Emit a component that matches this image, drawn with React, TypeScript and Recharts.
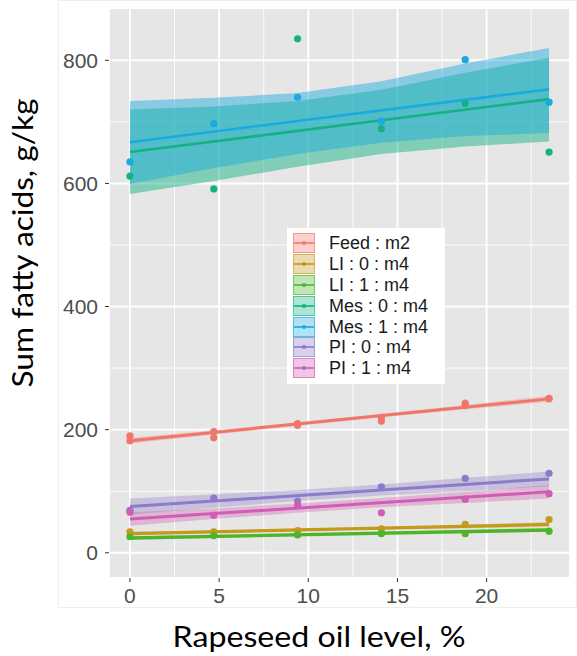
import { ComposedChart, XAxis, YAxis, CartesianGrid, Scatter, Line, Area, Label } from 'recharts';

// x positions of the diet levels
const X_LEVELS = [0, 4.7, 9.4, 14.1, 18.8, 23.5];
const FIT_X = [0, 23.5];

const X_DOMAIN = [-1.175, 24.675];
const Y_DOMAIN = [-41, 885];
const X_TICKS = [0, 5, 10, 15, 20];
const Y_TICKS = [0, 200, 400, 600, 800];
const X_MINOR = [2.5, 7.5, 12.5, 17.5, 22.5];
const Y_MINOR = [100, 300, 500, 700];

// observed sums (g/kg)
const FEED_A = [190, 197, 210, 220, 243, 251];
const FEED_B = [182, 187, 207, 214, 239, 250];
const LI0_PTS = [34, 34, 36, 39, 46, 54];
const LI1_PTS = [26, 28, 29, 31, 31, 35];
const MES0_PTS = [612, 591, 835, 689, 730, 651];
const MES1_PTS = [635, 697, 740, 701, 801, 732];
const PL0_PTS = [69, 89, 84, 107, 121, 129];
const PL1_PTS = [66, 61, 77, 65, 87, 96];

// model fits at x = 0 and x = 23.5
const FEED_FIT = [182, 250];
const LI0_FIT = [31, 46];
const LI1_FIT = [24, 37];
const MES0_FIT = [651, 737];
const MES1_FIT = [667, 753];
const PL0_FIT = [75, 120];
const PL1_FIT = [55, 99];

// confidence bands at X_LEVELS
const FEED_LO = [177, 192, 206, 220, 233, 245];
const FEED_HI = [187, 199, 212, 226, 240, 255];
const LI0_LO = [28, 32, 35, 38, 40, 42];
const LI0_HI = [34, 36, 39, 42, 46, 50];
const LI1_LO = [21, 24, 27, 30, 32, 34];
const LI1_HI = [27, 29, 31, 34, 37, 40];
const MES0_LO = [583, 604, 627, 648, 660, 668];
const MES0_HI = [720, 725, 734, 752, 780, 804];
const MES1_LO = [599, 625, 648, 666, 677, 682];
const MES1_HI = [734, 739, 747, 766, 795, 820];
const PL0_LO = [62, 73, 84, 93, 100, 108];
const PL0_HI = [88, 95, 102, 111, 122, 132];
const PL1_LO = [44, 55, 65, 74, 81, 88];
const PL1_HI = [66, 72, 80, 89, 99, 110];

const SERIES = [
  { name: 'Feed : m2', color: '#F0766C', pts: [FEED_A, FEED_B], fit: FEED_FIT, lo: FEED_LO, hi: FEED_HI, alpha: 0.3, lw: 3 },
  { name: 'LI : 0 : m4', color: '#C49A1C', pts: [LI0_PTS], fit: LI0_FIT, lo: LI0_LO, hi: LI0_HI, alpha: 0.3, lw: 3.2 },
  { name: 'LI : 1 : m4', color: '#4DB52A', pts: [LI1_PTS], fit: LI1_FIT, lo: LI1_LO, hi: LI1_HI, alpha: 0.3, lw: 3.4 },
  { name: 'Mes : 0 : m4', color: '#14B183', pts: [MES0_PTS], fit: MES0_FIT, lo: MES0_LO, hi: MES0_HI, alpha: 0.48, lw: 2.6 },
  { name: 'Mes : 1 : m4', color: '#17ABDF', pts: [MES1_PTS], fit: MES1_FIT, lo: MES1_LO, hi: MES1_HI, alpha: 0.46, lw: 2.6 },
  { name: 'PI : 0 : m4', color: '#8C7ACB', pts: [PL0_PTS], fit: PL0_FIT, lo: PL0_LO, hi: PL0_HI, alpha: 0.34, lw: 3 },
  { name: 'PI : 1 : m4', color: '#D05CB4', pts: [PL1_PTS], fit: PL1_FIT, lo: PL1_LO, hi: PL1_HI, alpha: 0.34, lw: 3 },
];

type Series = (typeof SERIES)[number];

const pointData = (s: Series) => s.pts.flatMap((arr) => arr.map((y, i) => ({ x: X_LEVELS[i], y })));
const fitData = (s: Series) => s.fit.map((y, i) => ({ x: FIT_X[i], y }));
const bandData = (s: Series) => X_LEVELS.map((x, i) => ({ x, band: [s.lo[i], s.hi[i]] }));

// minor grid positions: use the axis scale when exposed, otherwise map through the domain
const minorY = ({ yAxis, offset }: any) =>
  Y_MINOR.map((v) =>
    typeof yAxis?.scale === 'function'
      ? yAxis.scale(v)
      : offset.top + ((Y_DOMAIN[1] - v) / (Y_DOMAIN[1] - Y_DOMAIN[0])) * offset.height,
  );
const minorX = ({ xAxis, offset }: any) =>
  X_MINOR.map((v) =>
    typeof xAxis?.scale === 'function'
      ? xAxis.scale(v)
      : offset.left + ((v - X_DOMAIN[0]) / (X_DOMAIN[1] - X_DOMAIN[0])) * offset.width,
  );

const TICK_STYLE = { fontFamily: 'Liberation Sans, Arial, sans-serif', fontSize: 21, fill: '#4D4D4D' };
const TITLE_FONT = 'Lato, "Open Sans", sans-serif';

const XTitle = ({ viewBox }: any) => (
  <text
    x={viewBox.x + 210}
    y={viewBox.y + 69}
    textAnchor="middle"
    fontFamily={TITLE_FONT}
    fontSize={28}
    textLength={293}
    lengthAdjust="spacingAndGlyphs"
    fill="#000"
  >
    Rapeseed oil level, %
  </text>
);

const YTitle = () => (
  <text
    x={33}
    y={243}
    transform="rotate(-90 33 243)"
    textAnchor="middle"
    fontFamily={TITLE_FONT}
    fontSize={28}
    textLength={289}
    lengthAdjust="spacingAndGlyphs"
    fill="#000"
  >
    Sum fatty acids, g/kg
  </text>
);

function LegendBox() {
  return (
    <div
      style={{
        position: 'absolute',
        left: 287,
        top: 228,
        width: 158,
        padding: '5px 0 5px 6px',
        boxSizing: 'border-box',
        background: '#FFFFFF',
        fontFamily: 'Liberation Sans, Arial, sans-serif',
        fontSize: 18,
        color: '#1A1A1A',
      }}
    >
      {SERIES.map((s) => (
        <div key={s.name} style={{ display: 'flex', alignItems: 'center', height: 20.8 }}>
          <svg width={22} height={20} style={{ display: 'block' }}>
            <rect x={0.5} y={0.5} width={21} height={19} fill={s.color} fillOpacity={0.35} stroke={s.color} strokeOpacity={0.7} />
            <line x1={1} x2={21} y1={10} y2={10} stroke={s.color} strokeWidth={1.6} />
            <circle cx={11} cy={10} r={2} fill={s.color} />
          </svg>
          <span style={{ marginLeft: 14, lineHeight: '20px' }}>{s.name}</span>
        </div>
      ))}
    </div>
  );
}

export default function App() {
  return (
    <div style={{ position: 'absolute', left: 0, top: 0, width: 577, height: 656, background: '#fff' }}>
      <div
        style={{
          position: 'absolute',
          left: 58,
          top: 0,
          width: 519,
          height: 608,
          border: '1px solid #F1EDE8',
          boxSizing: 'border-box',
        }}
      />
      <ComposedChart width={577} height={656} margin={{ top: 8, right: 7, bottom: 0, left: 0 }}>
        <CartesianGrid
          fill="#E6E6E6"
          stroke="#FFFFFF"
          strokeWidth={0.9}
          horizontalCoordinatesGenerator={minorY}
          verticalCoordinatesGenerator={minorX}
        />
        <CartesianGrid stroke="#FFFFFF" strokeWidth={1.9} />
        <XAxis
          type="number"
          dataKey="x"
          domain={X_DOMAIN}
          ticks={X_TICKS}
          allowDataOverflow
          axisLine={false}
          tickLine={{ stroke: '#333333' }}
          tickSize={4}
          tickMargin={6}
          tick={TICK_STYLE}
          height={78}
          label={<Label content={XTitle} />}
        />
        <YAxis
          type="number"
          dataKey="y"
          domain={Y_DOMAIN}
          ticks={Y_TICKS}
          allowDataOverflow
          axisLine={false}
          tickLine={{ stroke: '#333333' }}
          tickSize={4}
          tickMargin={7}
          tick={TICK_STYLE}
          width={109}
          label={<Label content={YTitle} />}
        />
        {SERIES.map((s) => (
          <Scatter
            key={`pts-${s.name}`}
            data={pointData(s)}
            fill={s.color}
            isAnimationActive={false}
            shape={(p: any) => <circle cx={p.cx} cy={p.cy} r={3.6} fill={s.color} />}
          />
        ))}
        {SERIES.map((s) => (
          <Area
            key={`band-${s.name}`}
            data={bandData(s)}
            dataKey="band"
            type="linear"
            stroke="none"
            fill={s.color}
            fillOpacity={s.alpha}
            isAnimationActive={false}
            dot={false}
            activeDot={false}
          />
        ))}
        {SERIES.map((s) => (
          <Line
            key={`fit-${s.name}`}
            data={fitData(s)}
            dataKey="y"
            type="linear"
            stroke={s.color}
            strokeWidth={s.lw}
            dot={false}
            activeDot={false}
            isAnimationActive={false}
          />
        ))}
      </ComposedChart>
      <LegendBox />
    </div>
  );
}
